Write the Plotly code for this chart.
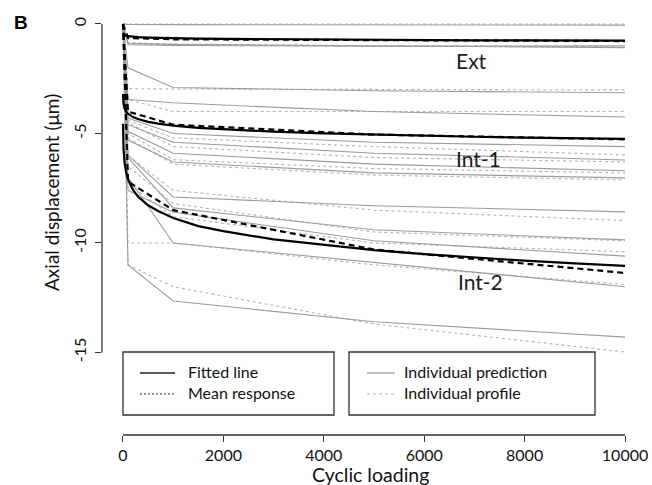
import plotly.graph_objects as go

# ---------------- data ----------------
cycles = [0, 100, 1000, 5000, 10000]
fit_cycles = [1, 10, 30, 60, 100, 150, 200, 300, 500, 700, 1000, 1500, 2000, 3000, 4000, 5000, 6000, 7000, 8000, 9000, 10000]

fit_ext = [-0.40, -0.47, -0.51, -0.54, -0.55, -0.57, -0.58, -0.60, -0.62, -0.64, -0.65, -0.67, -0.68, -0.70, -0.72, -0.73, -0.74, -0.75, -0.75, -0.76, -0.76]
fit_int1 = [-3.20, -3.62, -3.85, -4.00, -4.10, -4.19, -4.25, -4.34, -4.47, -4.55, -4.64, -4.74, -4.81, -4.92, -5.00, -5.06, -5.11, -5.15, -5.19, -5.22, -5.25]
fit_int2 = [-4.56, -5.69, -6.30, -6.75, -7.10, -7.38, -7.58, -7.89, -8.28, -8.54, -8.86, -9.23, -9.46, -9.84, -10.10, -10.33, -10.51, -10.67, -10.81, -10.93, -11.05]

mean_ext = [0, -0.64, -0.70, -0.74, -0.78]
mean_int1 = [0, -4.00, -4.60, -5.05, -5.27]
mean_int2 = [0, -7.20, -8.50, -10.30, -11.37]

# individual predictions (solid) and profiles (dotted), values at `cycles`
pred = {
    "E1": [0, -0.02, -0.03, -0.04, -0.05],
    "E2": [0, -0.88, -0.93, -1.00, -1.08],
    "E3": [0, -2.00, -2.90, -3.05, -3.14],
    "E4": [0, -3.45, -3.60, -4.00, -4.25],
    "E5": [0, -0.95, -0.98, -1.02, -1.00],
    "I1": [0, -4.30, -5.00, -5.40, -5.60],
    "I2": [0, -4.60, -5.40, -5.90, -6.21],
    "I3": [0, -4.90, -5.90, -6.40, -6.70],
    "I4": [0, -5.30, -6.30, -6.80, -7.03],
    "I5": [0, -6.00, -7.90, -8.30, -8.58],
    "J1": [0, -6.10, -8.40, -9.40, -9.86],
    "J2": [0, -7.60, -8.60, -9.90, -10.60],
    "J3": [0, -7.00, -10.00, -10.90, -12.00],
    "J4": [0, -11.00, -12.65, -13.60, -14.30],
}
prof = {
    "E1": [0, 0.00, 0.00, 0.00, 0.00],
    "E2": [0, -0.90, -0.95, -1.00, -1.05],
    "E3": [0, -2.95, -2.97, -3.00, -3.01],
    "E4": [0, -3.45, -4.00, -4.00, -4.00],
    "E5": [0, -0.85, -0.92, -1.00, -1.08],
    "I1": [0, -4.40, -5.20, -5.60, -5.98],
    "I2": [0, -4.50, -5.60, -6.10, -6.30],
    "I3": [0, -5.00, -6.20, -6.60, -6.80],
    "I4": [0, -5.20, -6.40, -6.90, -7.12],
    "I5": [0, -6.00, -7.60, -8.50, -8.98],
    "J1": [0, -6.50, -8.20, -9.50, -9.90],
    "J2": [0, -7.30, -8.80, -10.00, -10.40],
    "J3": [0, -10.00, -10.00, -11.00, -11.90],
    "J4": [0, -11.00, -12.00, -13.70, -14.98],
}

group_labels = ["Ext", "Int-1", "Int-2"]
group_label_x = [6950, 7090, 7130]
group_label_y = [-1.69, -6.12, -11.78]

x_ticks = [0, 2000, 4000, 6000, 8000, 10000]
x_ticktext = ["0", "2000", "4000", "6000", "8000", "10000"]
y_ticks = [0, -5, -10, -15]
y_ticktext = ["0", "-5", "-10", "-15"]

legend1 = ["Fitted line", "Mean response"]
legend2 = ["Individual prediction", "Individual profile"]

# ---------------- figure ----------------
W, H = 652, 485
L, R, T, B = 102, 645, 8, 435
FONT = "Lato"

def px(x):
    return (x - L) / (R - L)

def py(y):
    return (B - y) / (B - T)

PRED_C = "#9c9c9c"
PROF_C = "#b4b4b4"
TXT = "#111"

fig = go.Figure()
for k in prof:
    fig.add_trace(go.Scatter(x=cycles, y=prof[k], mode="lines",
                             line=dict(color=PROF_C, width=1.1, dash="dot"),
                             showlegend=False, hoverinfo="skip"))
for k in pred:
    fig.add_trace(go.Scatter(x=cycles, y=pred[k], mode="lines",
                             line=dict(color=PRED_C, width=1.1),
                             showlegend=False, hoverinfo="skip"))
for m in [mean_ext, mean_int1, mean_int2]:
    fig.add_trace(go.Scatter(x=cycles, y=m, mode="lines",
                             line=dict(color="black", width=2.2, dash="6px,4px"),
                             showlegend=False, hoverinfo="skip"))
for f in [fit_ext, fit_int1, fit_int2]:
    fig.add_trace(go.Scatter(x=fit_cycles, y=f, mode="lines",
                             line=dict(color="black", width=2.2),
                             showlegend=False, hoverinfo="skip"))

for t, gx, gy in zip(group_labels, group_label_x, group_label_y):
    fig.add_annotation(x=gx, y=gy, text=t, showarrow=False,
                       font=dict(family=FONT, size=21, color="#1a1a1a"),
                       xanchor="center", yanchor="middle")

shapes = []
# R-style axis lines
shapes.append(dict(type="line", xref="paper", yref="y", x0=0, x1=0, y0=-15, y1=0,
                   line=dict(color="#333", width=1.3)))
shapes.append(dict(type="line", xref="x", yref="paper", x0=0, x1=10000, y0=0, y1=0,
                   line=dict(color="#333", width=1.3)))
# legend boxes
shapes.append(dict(type="rect", xref="paper", yref="paper", x0=px(123), x1=px(334),
                   y0=py(415), y1=py(352), line=dict(color="#333", width=1.3)))
shapes.append(dict(type="rect", xref="paper", yref="paper", x0=px(349), x1=px(595),
                   y0=py(415), y1=py(352), line=dict(color="#333", width=1.3)))
# legend samples
shapes.append(dict(type="line", xref="paper", yref="paper", x0=px(140), x1=px(175),
                   y0=py(373), y1=py(373), line=dict(color="#222", width=1.5)))
shapes.append(dict(type="line", xref="paper", yref="paper", x0=px(140), x1=px(175),
                   y0=py(394), y1=py(394), line=dict(color="#222", width=1.2, dash="2px,2px")))
shapes.append(dict(type="line", xref="paper", yref="paper", x0=px(367), x1=px(395),
                   y0=py(373), y1=py(373), line=dict(color=PRED_C, width=1.2)))
shapes.append(dict(type="line", xref="paper", yref="paper", x0=px(367), x1=px(395),
                   y0=py(394), y1=py(394), line=dict(color=PROF_C, width=1.2, dash="dot")))

for i, t in enumerate(legend1):
    fig.add_annotation(xref="paper", yref="paper", x=px(186), y=py([371, 392][i]), text=t,
                       showarrow=False, xanchor="left", yanchor="middle",
                       font=dict(family=FONT, size=16, color=TXT))
for i, t in enumerate(legend2):
    fig.add_annotation(xref="paper", yref="paper", x=px(402), y=py([371, 392][i]), text=t,
                       showarrow=False, xanchor="left", yanchor="middle",
                       font=dict(family=FONT, size=16, color=TXT))

# axis titles and panel letter
fig.add_annotation(xref="paper", yref="paper", x=px(51), y=py(193), text="Axial displacement (μm)",
                   textangle=-90, showarrow=False, xanchor="center", yanchor="middle",
                   font=dict(family=FONT, size=19, color=TXT))
fig.add_annotation(xref="paper", yref="paper", x=px(370), y=py(474), text="Cyclic loading",
                   showarrow=False, xanchor="center", yanchor="middle",
                   font=dict(family=FONT, size=19.5, color=TXT))
fig.add_annotation(xref="paper", yref="paper", x=px(21), y=py(22), text="<b>B</b>",
                   showarrow=False, xanchor="center", yanchor="middle",
                   font=dict(family="Liberation Sans", size=19, color="#000"))

fig.update_layout(
    width=W, height=H,
    margin=dict(l=L, r=W - R, t=T, b=H - B, pad=0, autoexpand=False),
    plot_bgcolor="white", paper_bgcolor="white",
    shapes=shapes,
    showlegend=False,
    xaxis=dict(range=[-418, 10398], showgrid=False, zeroline=False, showline=False,
               automargin=False,
               tickvals=x_ticks, ticktext=x_ticktext, ticks="outside", ticklen=6,
               tickcolor="#333", tickwidth=1.3,
               tickfont=dict(family=FONT, size=16, color=TXT), fixedrange=True),
    yaxis=dict(range=[-18.77, 0.73], showgrid=False, zeroline=False, showline=False,
               automargin=False, ticklabelstandoff=3,
               tickvals=y_ticks, ticktext=y_ticktext, ticks="outside", ticklen=6,
               tickcolor="#333", tickwidth=1.3, tickangle=-90,
               tickfont=dict(family=FONT, size=16, color=TXT), fixedrange=True),
)

fig.write_html("out.html", config={"displayModeBar": False},
               post_script="document.body.style.margin='0px';document.body.style.overflow='hidden';")
